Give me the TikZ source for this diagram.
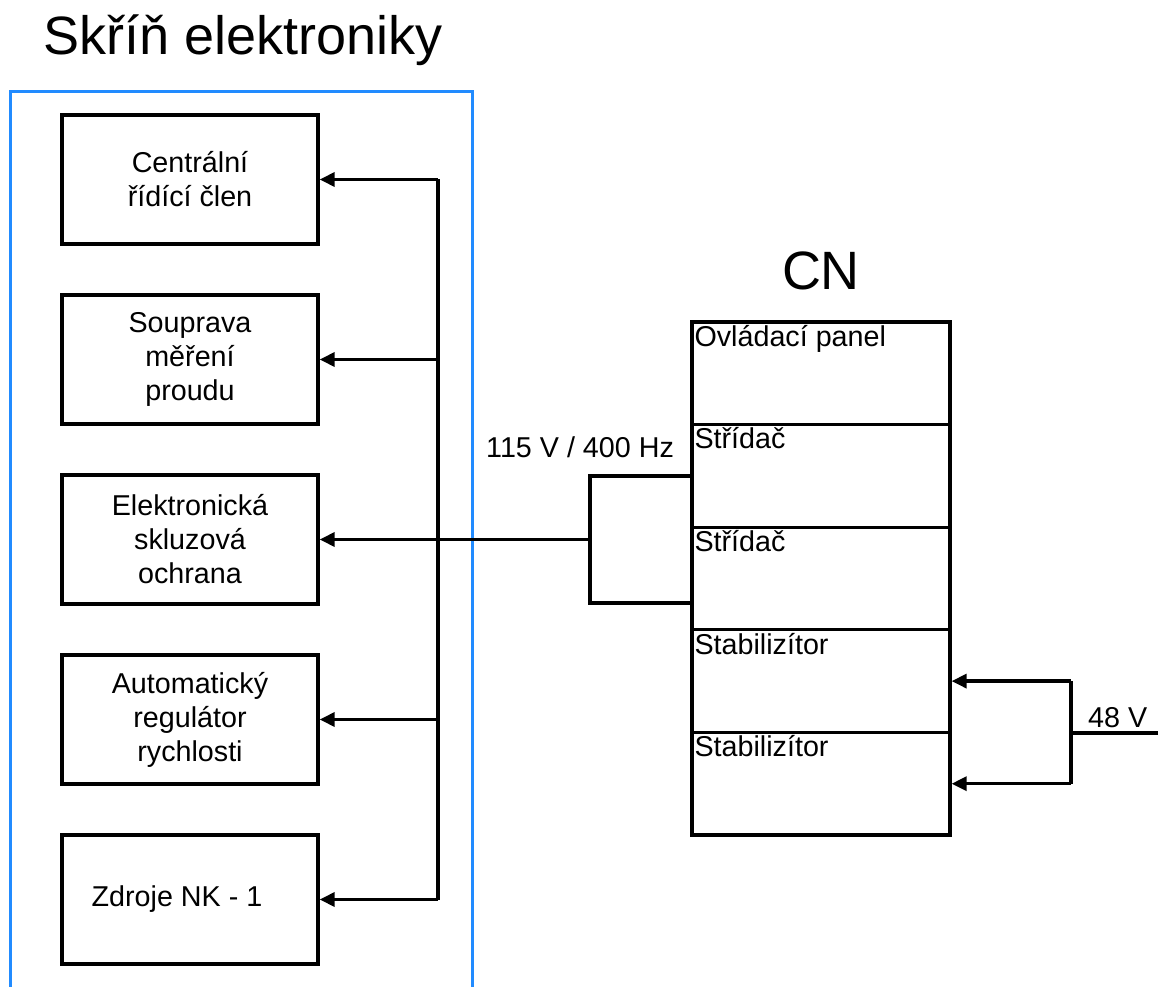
\documentclass[tikz,border=0pt]{standalone}
\usepackage{fontspec}
\setmainfont{Liberation Sans}
\usetikzlibrary{arrows.meta,positioning}
\definecolor{caseblue}{RGB}{33,139,255}
\tikzset{
  unit/.style={draw, line width=3.3pt, minimum width=256pt, minimum height=129pt, align=center, font=\fontsize{28.7}{34}\selectfont},
  row/.style={draw, line width=3.3pt, minimum width=258pt, minimum height=102.6pt, inner sep=0pt},
  rowtext/.style={anchor=base west, inner sep=0pt, font=\fontsize{28.7}{34}\selectfont},
  heading/.style={anchor=base, inner sep=0pt, font=\fontsize{54}{60}\selectfont},
  wire/.style={line width=3.3pt},
  feed/.style={line width=3.3pt, -{Triangle[length=15pt,width=14pt]}},
}
\begin{document}
\begin{tikzpicture}[x=1pt,y=-1pt]
\useasboundingbox (0,0) rectangle (1165,987);

\node[heading, anchor=base west] (title) at (43,55) {Skříň elektroniky};
\draw[caseblue, line width=3pt] (10,987) -- (10,92) -- (472,92) -- (472,987);

\node[unit] (crc) at (190,179.5) {Centrální\\řídící člen};
\node[unit] (smp) at (190,359.5) {Souprava\\měření\\proudu};
\node[unit] (esk) at (190,539.5) {Elektronická\\skluzová\\ochrana};
\node[unit] (arr) at (190,719.5) {Automatický\\regulátor\\rychlosti};
\node[unit] (znk) at (190,899.5) {Zdroje NK - 1\hspace*{26pt}};

\coordinate (bustop) at (438,179.5);
\coordinate (busbot) at (438,899.5);
\draw[wire] (bustop) -- (busbot);
\foreach \b in {crc,smp,arr,znk}
  \draw[feed] (\b.east -| bustop) -- (\b.east);

\node[heading] (cn) at (821,289) {CN};
\node[row] (cnA) at (821,373.3) {};
\node[row] (cnB) at (821,475.9) {};
\node[row] (cnC) at (821,578.5) {};
\node[row] (cnD) at (821,681.1) {};
\node[row] (cnE) at (821,783.7) {};
\foreach \r/\t in {cnA/Ovládací panel, cnB/Střídač, cnC/Střídač, cnD/Stabilizítor, cnE/Stabilizítor}
  \node[rowtext] at ([shift={(4,26)}]\r.north west) {\t};

\coordinate (split) at (590,539.5);
\coordinate (inB) at (692,603);
\draw[wire] (cnB.west) -| (split |- inB) -- (inB);
\draw[feed] (split) -- (esk.east);
\node[rowtext] (ac) at (486,457) {115 V / 400 Hz};

\coordinate (tap) at (1071,733);
\coordinate (supply) at (1158,733);
\draw[wire] (supply) -- (tap);
\draw[wire] (cnD.east -| tap) -- (cnE.east -| tap);
\draw[feed] (cnD.east -| tap) -- (cnD.east);
\draw[feed] (cnE.east -| tap) -- (cnE.east);
\node[rowtext] (dc) at (1088,727) {48 V};
\end{tikzpicture}
\end{document}
